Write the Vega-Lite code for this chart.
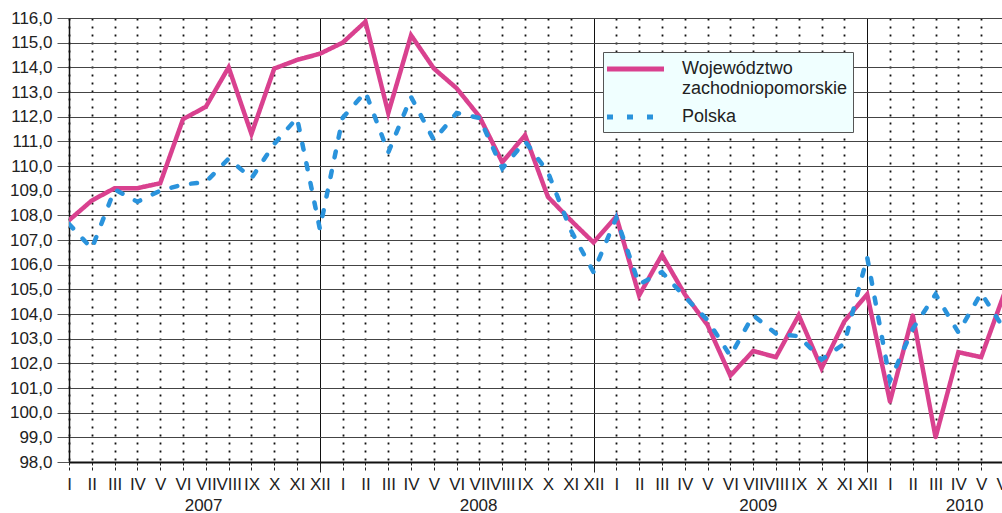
{
  "$schema": "https://vega.github.io/schema/vega-lite/v6.json",
  "autosize": {"type": "none"},
  "padding": {"left": 69, "top": 18, "right": 0, "bottom": 51},
  "width": 935,
  "height": 444,
  "background": "white",
  "config": {
    "view": {"stroke": null},
    "font": "Liberation Sans",
    "legend": {
      "orient": "none",
      "legendX": 534,
      "legendY": 34,
      "fillColor": "#F0FFFF",
      "strokeColor": "#555555",
      "padding": 5,
      "labelFont": "Liberation Sans",
      "labelFontSize": 18,
      "labelColor": "#222222",
      "labelOffset": 34.5,
      "labelLimit": 400,
      "symbolType": "M-3,0H3",
      "symbolSize": 361,
      "symbolOffset": 15.5,
      "symbolStrokeWidth": 5,
      "rowPadding": 7
    }
  },
  "data": {
    "values": [
      {"month": 0, "series": "Województwo zachodniopomorskie", "value": 107.8},
      {"month": 1, "series": "Województwo zachodniopomorskie", "value": 108.6},
      {"month": 2, "series": "Województwo zachodniopomorskie", "value": 109.1},
      {"month": 3, "series": "Województwo zachodniopomorskie", "value": 109.1},
      {"month": 4, "series": "Województwo zachodniopomorskie", "value": 109.3},
      {"month": 5, "series": "Województwo zachodniopomorskie", "value": 111.9},
      {"month": 6, "series": "Województwo zachodniopomorskie", "value": 112.4},
      {"month": 7, "series": "Województwo zachodniopomorskie", "value": 114.0},
      {"month": 8, "series": "Województwo zachodniopomorskie", "value": 111.3},
      {"month": 9, "series": "Województwo zachodniopomorskie", "value": 113.95},
      {"month": 10, "series": "Województwo zachodniopomorskie", "value": 114.3},
      {"month": 11, "series": "Województwo zachodniopomorskie", "value": 114.55},
      {"month": 12, "series": "Województwo zachodniopomorskie", "value": 115.0},
      {"month": 13, "series": "Województwo zachodniopomorskie", "value": 115.85},
      {"month": 14, "series": "Województwo zachodniopomorskie", "value": 112.15},
      {"month": 15, "series": "Województwo zachodniopomorskie", "value": 115.3},
      {"month": 16, "series": "Województwo zachodniopomorskie", "value": 113.95},
      {"month": 17, "series": "Województwo zachodniopomorskie", "value": 113.15},
      {"month": 18, "series": "Województwo zachodniopomorskie", "value": 112.0},
      {"month": 19, "series": "Województwo zachodniopomorskie", "value": 110.15},
      {"month": 20, "series": "Województwo zachodniopomorskie", "value": 111.25},
      {"month": 21, "series": "Województwo zachodniopomorskie", "value": 108.75},
      {"month": 22, "series": "Województwo zachodniopomorskie", "value": 107.8},
      {"month": 23, "series": "Województwo zachodniopomorskie", "value": 106.9},
      {"month": 24, "series": "Województwo zachodniopomorskie", "value": 107.95},
      {"month": 25, "series": "Województwo zachodniopomorskie", "value": 104.75},
      {"month": 26, "series": "Województwo zachodniopomorskie", "value": 106.4},
      {"month": 27, "series": "Województwo zachodniopomorskie", "value": 104.8},
      {"month": 28, "series": "Województwo zachodniopomorskie", "value": 103.55},
      {"month": 29, "series": "Województwo zachodniopomorskie", "value": 101.5},
      {"month": 30, "series": "Województwo zachodniopomorskie", "value": 102.5},
      {"month": 31, "series": "Województwo zachodniopomorskie", "value": 102.25},
      {"month": 32, "series": "Województwo zachodniopomorskie", "value": 103.95},
      {"month": 33, "series": "Województwo zachodniopomorskie", "value": 101.8},
      {"month": 34, "series": "Województwo zachodniopomorskie", "value": 103.7},
      {"month": 35, "series": "Województwo zachodniopomorskie", "value": 104.8},
      {"month": 36, "series": "Województwo zachodniopomorskie", "value": 100.45},
      {"month": 37, "series": "Województwo zachodniopomorskie", "value": 103.95},
      {"month": 38, "series": "Województwo zachodniopomorskie", "value": 99.0},
      {"month": 39, "series": "Województwo zachodniopomorskie", "value": 102.45},
      {"month": 40, "series": "Województwo zachodniopomorskie", "value": 102.25},
      {"month": 41, "series": "Województwo zachodniopomorskie", "value": 104.8},
      {"month": 0, "series": "Polska", "value": 107.65},
      {"month": 1, "series": "Polska", "value": 106.65},
      {"month": 2, "series": "Polska", "value": 109.05},
      {"month": 3, "series": "Polska", "value": 108.55},
      {"month": 4, "series": "Polska", "value": 109.0},
      {"month": 5, "series": "Polska", "value": 109.25},
      {"month": 6, "series": "Polska", "value": 109.35},
      {"month": 7, "series": "Polska", "value": 110.3},
      {"month": 8, "series": "Polska", "value": 109.5},
      {"month": 9, "series": "Polska", "value": 110.9},
      {"month": 10, "series": "Polska", "value": 111.95},
      {"month": 11, "series": "Polska", "value": 107.45},
      {"month": 12, "series": "Polska", "value": 111.95},
      {"month": 13, "series": "Polska", "value": 113.0},
      {"month": 14, "series": "Polska", "value": 110.55},
      {"month": 15, "series": "Polska", "value": 112.8},
      {"month": 16, "series": "Polska", "value": 111.05},
      {"month": 17, "series": "Polska", "value": 112.15},
      {"month": 18, "series": "Polska", "value": 111.95},
      {"month": 19, "series": "Polska", "value": 109.9},
      {"month": 20, "series": "Polska", "value": 111.0},
      {"month": 21, "series": "Polska", "value": 109.75},
      {"month": 22, "series": "Polska", "value": 107.4},
      {"month": 23, "series": "Polska", "value": 105.7},
      {"month": 24, "series": "Polska", "value": 107.9},
      {"month": 25, "series": "Polska", "value": 105.2},
      {"month": 26, "series": "Polska", "value": 105.7},
      {"month": 27, "series": "Polska", "value": 104.7},
      {"month": 28, "series": "Polska", "value": 103.75},
      {"month": 29, "series": "Polska", "value": 102.3},
      {"month": 30, "series": "Polska", "value": 103.95},
      {"month": 31, "series": "Polska", "value": 103.2},
      {"month": 32, "series": "Polska", "value": 103.1},
      {"month": 33, "series": "Polska", "value": 102.15},
      {"month": 34, "series": "Polska", "value": 102.8},
      {"month": 35, "series": "Polska", "value": 106.3},
      {"month": 36, "series": "Polska", "value": 101.3},
      {"month": 37, "series": "Polska", "value": 103.4},
      {"month": 38, "series": "Polska", "value": 104.8},
      {"month": 39, "series": "Polska", "value": 103.25},
      {"month": 40, "series": "Polska", "value": 104.85},
      {"month": 41, "series": "Polska", "value": 103.4}
    ]
  },
  "mark": {"type": "line", "strokeCap": "round", "strokeWidth": 4.5, "clip": true},
  "encoding": {
    "x": {
      "field": "month",
      "type": "quantitative",
      "scale": {"domain": [0, 41], "nice": false, "zero": false},
      "axis": {
        "title": null,
        "values": [0,1,2,3,4,5,5.88,6,7,8,9,10,11,12,13,14,15,16,17,17.94,18,19,20,21,22,23,24,25,26,27,28,29,30,30.2,31,32,33,34,35,36,37,38,39,39.25,40,41],
        "labelExpr": "datum.value % 1 == 0 ? ['I','II','III','IV','V','VI','VII','VIII','IX','X','XI','XII'][datum.value % 12] : ['', '' + (2007 + floor(datum.value / 12))]",
        "labelFont": "Liberation Sans",
        "labelFontSize": 17,
        "labelColor": "#222222",
        "labelLineHeight": 21,
        "labelOverlap": false,
        "labelFlush": false,
        "labelPadding": 4,
        "labelBound": false,
        "domain": true,
        "domainColor": "#111111",
        "domainWidth": 2,
        "ticks": true,
        "tickSize": 10,
        "tickColor": "#222222",
        "tickDash": {"condition": {"test": "datum.value % 12 == 11", "value": []}, "value": [3, 2]},
        "tickOpacity": {"condition": {"test": "datum.value % 1 != 0", "value": 0}, "value": 1},
        "grid": true,
        "gridColor": "#111111",
        "gridWidth": {"condition": {"test": "datum.value % 12 == 11", "value": 1}, "value": 1.8},
        "gridDash": {"condition": {"test": "datum.value % 12 == 11", "value": []}, "value": [2, 6]},
        "gridOpacity": {"condition": {"test": "datum.value % 1 != 0", "value": 0}, "value": 1}
      }
    },
    "y": {
      "field": "value",
      "type": "quantitative",
      "scale": {"domain": [98, 116], "nice": false, "zero": false},
      "axis": {
        "title": null,
        "values": [98,99,100,101,102,103,104,105,106,107,108,109,110,111,112,113,114,115,116],
        "labelExpr": "replace(format(datum.value, '.1f'), '.', ',')",
        "labelFont": "Liberation Sans",
        "labelFontSize": 17,
        "labelColor": "#222222",
        "labelPadding": 5,
        "tickSize": 12,
        "tickColor": "#555555",
        "domainColor": "#111111",
        "domainWidth": 1.5,
        "gridColor": "#444444",
        "gridWidth": 1.2
      }
    },
    "color": {
      "field": "series",
      "type": "nominal",
      "scale": {"domain": ["Województwo zachodniopomorskie", "Polska"], "range": ["#d9418f", "#2a93dc"]},
      "legend": {
        "title": null,
        "labelExpr": "datum.label == 'Polska' ? 'Polska' : ['Województwo', 'zachodniopomorskie']"
      }
    },
    "strokeDash": {
      "field": "series",
      "type": "nominal",
      "scale": {"domain": ["Województwo zachodniopomorskie", "Polska"], "range": [[1, 0], [6, 14]]},
      "legend": {
        "title": null,
        "labelExpr": "datum.label == 'Polska' ? 'Polska' : ['Województwo', 'zachodniopomorskie']"
      }
    }
  }
}
